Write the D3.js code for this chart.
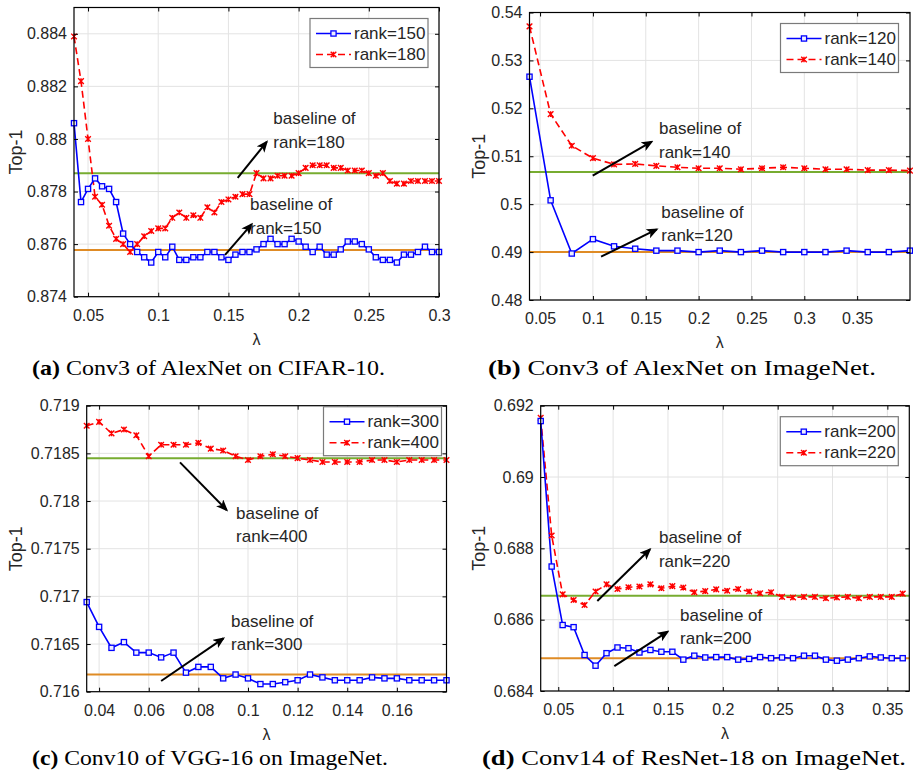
<!DOCTYPE html>
<html lang="en">
<head>
<meta charset="utf-8">
<title>Top-1 vs lambda</title>
<script src="https://cdn.jsdelivr.net/npm/d3@7"></script>
<style>
  body { margin: 0; background: #fff; }
  text { font-family: "Liberation Sans", Arial, sans-serif; fill: #262626; }
  .cap text, text.cap { font-family: "Liberation Serif", "Times New Roman", serif; fill: #000; }
</style>
</head>
<body>
<script>
// ---- data ----
// (a) Conv3 of AlexNet on CIFAR-10
var lambdaA = [0.04, 0.045, 0.05, 0.055, 0.06, 0.065, 0.07, 0.075, 0.08, 0.085, 0.09, 0.095,
               0.1, 0.105, 0.11, 0.115, 0.12, 0.125, 0.13, 0.135, 0.14, 0.145, 0.15, 0.155,
               0.16, 0.165, 0.17, 0.175, 0.18, 0.185, 0.19, 0.195, 0.2, 0.205, 0.21, 0.215,
               0.22, 0.225, 0.23, 0.235, 0.24, 0.245, 0.25, 0.255, 0.26, 0.265, 0.27, 0.275,
               0.28, 0.285, 0.29, 0.295, 0.3];
var rank150 = [0.8806, 0.8776, 0.8781, 0.8785, 0.8782, 0.8781, 0.8776, 0.8764, 0.8760, 0.8757, 0.8755, 0.8753,
               0.8757, 0.8755, 0.8759, 0.8754, 0.8754, 0.8755, 0.8755, 0.8757, 0.8757, 0.8755, 0.8754, 0.8756,
               0.8757, 0.8757, 0.8758, 0.8760, 0.8762, 0.8760, 0.8760, 0.8762, 0.8761, 0.8759, 0.8757, 0.8759,
               0.8756, 0.8756, 0.8758, 0.8761, 0.8761, 0.8760, 0.8758, 0.8755, 0.8754, 0.8754, 0.8753, 0.8756,
               0.8756, 0.8757, 0.8759, 0.8757, 0.8757];
var rank180 = [0.8839, 0.8822, 0.8800, 0.8778, 0.8775, 0.8767, 0.8762, 0.8760, 0.8757, 0.8760, 0.8763, 0.8765,
               0.8766, 0.8766, 0.8770, 0.8772, 0.8770, 0.8771, 0.8770, 0.8774, 0.8772, 0.8776, 0.8777, 0.8778,
               0.8779, 0.8779, 0.8787, 0.8785, 0.8785, 0.8786, 0.8786, 0.8786, 0.8787, 0.8789, 0.8790, 0.8790,
               0.8790, 0.8789, 0.8789, 0.8788, 0.8788, 0.8788, 0.8787, 0.8786, 0.8787, 0.8784, 0.8783, 0.8783,
               0.8784, 0.8784, 0.8784, 0.8784, 0.8784];
var baseA = [0.8787, 0.87578];

// (b) Conv3 of AlexNet on ImageNet
var lambdaB = [0.04, 0.06, 0.08, 0.1, 0.12, 0.14, 0.16, 0.18, 0.2, 0.22, 0.24, 0.26, 0.28, 0.3,
               0.32, 0.34, 0.36, 0.38, 0.4];
var rank120 = [0.5266, 0.5008, 0.4897, 0.4927, 0.4912, 0.4907, 0.4903, 0.4903, 0.4900, 0.4903,
               0.4900, 0.4903, 0.4900, 0.4900, 0.4900, 0.4903, 0.4900, 0.4900, 0.4903];
var rank140 = [0.5371, 0.5188, 0.5122, 0.5096, 0.5083, 0.5084, 0.5080, 0.5077, 0.5075, 0.5075,
               0.5073, 0.5075, 0.5077, 0.5075, 0.5073, 0.5073, 0.5071, 0.5071, 0.5070];
var baseB = [0.5067, 0.4900];

// (c) Conv10 of VGG-16 on ImageNet
var lambdaC = [0.035, 0.04, 0.045, 0.05, 0.055, 0.06, 0.065, 0.07, 0.075, 0.08, 0.085, 0.09,
               0.095, 0.1, 0.105, 0.11, 0.115, 0.12, 0.125, 0.13, 0.135, 0.14, 0.145, 0.15,
               0.155, 0.16, 0.165, 0.17, 0.175, 0.18];
var rank300 = [0.71694, 0.71668, 0.71646, 0.71652, 0.71641, 0.71641, 0.71636, 0.71641, 0.71620, 0.71626,
               0.71626, 0.71614, 0.71618, 0.71614, 0.71608, 0.71608, 0.71610, 0.71612, 0.71618, 0.71615,
               0.71612, 0.71612, 0.71612, 0.71615, 0.71614, 0.71614, 0.71612, 0.71612, 0.71612, 0.71612];
var rank400 = [0.71879, 0.71883, 0.71871, 0.71875, 0.71869, 0.71847, 0.71859, 0.71859, 0.71859, 0.71861,
               0.71855, 0.71853, 0.71847, 0.71843, 0.71847, 0.71849, 0.71847, 0.71845, 0.71843, 0.71841,
               0.71841, 0.71841, 0.71841, 0.71843, 0.71843, 0.71841, 0.71843, 0.71843, 0.71843, 0.71843];
var baseC = [0.71845, 0.71618];

// (d) Conv14 of ResNet-18 on ImageNet
var lambdaD = [0.034, 0.044, 0.054, 0.064, 0.074, 0.084, 0.094, 0.104, 0.114, 0.124, 0.134, 0.144,
               0.154, 0.164, 0.174, 0.184, 0.194, 0.204, 0.214, 0.224, 0.234, 0.244, 0.254, 0.264,
               0.274, 0.284, 0.294, 0.304, 0.314, 0.324, 0.334, 0.344, 0.354, 0.364];
var rank200 = [0.69157, 0.68749, 0.68585, 0.68579, 0.68501, 0.68471, 0.68506, 0.68522, 0.68520, 0.68508,
               0.68515, 0.68510, 0.68510, 0.68488, 0.68499, 0.68494, 0.68495, 0.68495, 0.68488, 0.68490,
               0.68495, 0.68492, 0.68494, 0.68492, 0.68499, 0.68499, 0.68488, 0.68485, 0.68488, 0.68492,
               0.68497, 0.68494, 0.68492, 0.68492];
var rank220 = [0.69166, 0.68836, 0.68671, 0.68655, 0.68641, 0.68679, 0.68699, 0.68686, 0.68691, 0.68693,
               0.68699, 0.68688, 0.68694, 0.68690, 0.68677, 0.68680, 0.68685, 0.68681, 0.68686, 0.68679,
               0.68674, 0.68677, 0.68664, 0.68662, 0.68664, 0.68664, 0.68660, 0.68662, 0.68664, 0.68660,
               0.68664, 0.68664, 0.68664, 0.68673];
var baseD = [0.68667, 0.68492];

// tick values and labels
var xTicksA = [0.05, 0.1, 0.15, 0.2, 0.25, 0.3];
var xLabelsA = ["0.05", "0.1", "0.15", "0.2", "0.25", "0.3"];
var yTicksA = [0.874, 0.876, 0.878, 0.88, 0.882, 0.884];
var yLabelsA = ["0.874", "0.876", "0.878", "0.88", "0.882", "0.884"];
var xTicksB = [0.05, 0.1, 0.15, 0.2, 0.25, 0.3, 0.35];
var xLabelsB = ["0.05", "0.1", "0.15", "0.2", "0.25", "0.3", "0.35"];
var yTicksB = [0.48, 0.49, 0.5, 0.51, 0.52, 0.53, 0.54];
var yLabelsB = ["0.48", "0.49", "0.5", "0.51", "0.52", "0.53", "0.54"];
var xTicksC = [0.04, 0.06, 0.08, 0.1, 0.12, 0.14, 0.16];
var xLabelsC = ["0.04", "0.06", "0.08", "0.1", "0.12", "0.14", "0.16"];
var yTicksC = [0.716, 0.7165, 0.717, 0.7175, 0.718, 0.7185, 0.719];
var yLabelsC = ["0.716", "0.7165", "0.717", "0.7175", "0.718", "0.7185", "0.719"];
var xTicksD = [0.05, 0.1, 0.15, 0.2, 0.25, 0.3, 0.35];
var xLabelsD = ["0.05", "0.1", "0.15", "0.2", "0.25", "0.3", "0.35"];
var yTicksD = [0.684, 0.686, 0.688, 0.69, 0.692];
var yLabelsD = ["0.684", "0.686", "0.688", "0.69", "0.692"];

var w = 913, h = 775;
var svg = d3.select("body").append("svg").attr("width", w).attr("height", h);

svg.append("defs").append("marker")
    .attr("id", "arrowhead")
    .attr("viewBox", "0 0 12 10")
    .attr("refX", 10).attr("refY", 5)
    .attr("markerWidth", 12).attr("markerHeight", 10)
    .attr("markerUnits", "userSpaceOnUse")
    .attr("orient", "auto")
    .append("path")
    .attr("d", "M0,0 L12,5 L0,10 L3,5 Z")
    .attr("fill", "#000");

var panels = [
  { left: 74, right: 439, top: 7.5, bottom: 296.7, xDom: [0.04, 0.3], yDom: [0.874, 0.885],
    lam: lambdaA, s1: rank150, s2: rank180, base: baseA, names: ["rank=150", "rank=180"],
    xt: xTicksA, xl: xLabelsA, yt: yTicksA, yl: yLabelsA, legRight: 11, legTop: 11,
    notes: [ { from: [0.1566, 0.87852], to: [0.1773, 0.87989], at: [0.182, 0.88078], txt: "rank=180" },
             { from: [0.1476, 0.87559], to: [0.1666, 0.87676], at: [0.1654, 0.87752], txt: "rank=150" } ],
    capX: 32, capY: 375, capW: 353, cap: ["(a)", " Conv3 of AlexNet on CIFAR-10."], ylabX: 22 },
  { left: 529.5, right: 910, top: 12.5, bottom: 300, xDom: [0.04, 0.4], yDom: [0.48, 0.54],
    lam: lambdaB, s1: rank120, s2: rank140, base: baseB, names: ["rank=120", "rank=140"],
    xt: xTicksB, xl: xLabelsB, yt: yTicksB, yl: yLabelsB, legRight: 11.5, legTop: 11,
    notes: [ { from: [0.0998, 0.50594], to: [0.1556, 0.51304], at: [0.1625, 0.51583], txt: "rank=140" },
             { from: [0.1077, 0.48904], to: [0.1604, 0.49475], at: [0.1647, 0.49837], txt: "rank=120" } ],
    capX: 488, capY: 375, capW: 388, cap: ["(b)", " Conv3 of AlexNet on ImageNet."], ylabX: 485 },
  { left: 86.7, right: 446.5, top: 405.7, bottom: 691.7, xDom: [0.035, 0.18], yDom: [0.716, 0.719],
    lam: lambdaC, s1: rank300, s2: rank400, base: baseC, names: ["rank=300", "rank=400"],
    xt: xTicksC, xl: xLabelsC, yt: yTicksC, yl: yLabelsC, legRight: 5, legTop: 1,
    notes: [ { from: [0.0726, 0.718406], to: [0.0914, 0.717906], at: [0.0952, 0.717878], txt: "rank=400" },
             { from: [0.065, 0.716112], to: [0.0901, 0.71656], at: [0.0932, 0.716742], txt: "rank=300" } ],
    capX: 32, capY: 765, capW: 356, cap: ["(c)", " Conv10 of VGG-16 on ImageNet."], ylabX: 22 },
  { left: 540.7, right: 909.3, top: 405.7, bottom: 691, xDom: [0.034, 0.37], yDom: [0.684, 0.692],
    lam: lambdaD, s1: rank200, s2: rank220, base: baseD, names: ["rank=200", "rank=220"],
    xt: xTicksD, xl: xLabelsD, yt: yTicksD, yl: yLabelsD, legRight: 11, legTop: 11,
    notes: [ { from: [0.0856, 0.686524], to: [0.1336, 0.687973], at: [0.1418, 0.68831], txt: "rank=220" },
             { from: [0.1011, 0.6847], to: [0.1498, 0.685663], at: [0.161, 0.686131], txt: "rank=200" } ],
    capX: 482, capY: 765, capW: 424, cap: ["(d)", " Conv14 of ResNet-18 on ImageNet."], ylabX: 485 }
];

var blue = "#0000ff", red = "#ff0000", green = "#77ac30", orange = "#df8b25";

function square(g, pts, color) {
  g.selectAll(null).data(pts).enter().append("rect")
    .attr("x", function(d) { return d[0] - 2.6; })
    .attr("y", function(d) { return d[1] - 2.6; })
    .attr("width", 5.2).attr("height", 5.2)
    .attr("fill", "#eef").attr("stroke", color).attr("stroke-width", 1.3);
}
function cross(g, pts, color) {
  g.selectAll(null).data(pts).enter().append("path")
    .attr("d", function(d) {
      var s = 2.8;
      return "M" + (d[0] - s) + "," + (d[1] - s) + "L" + (d[0] + s) + "," + (d[1] + s) +
             "M" + (d[0] - s) + "," + (d[1] + s) + "L" + (d[0] + s) + "," + (d[1] - s) +
             "M" + d[0] + "," + (d[1] - s) + "L" + d[0] + "," + (d[1] + s);
    })
    .attr("stroke", color).attr("stroke-width", 1.4).attr("fill", "none");
}

panels.forEach(function(p) {
  var x = d3.scaleLinear().domain(p.xDom).range([p.left, p.right]);
  var y = d3.scaleLinear().domain(p.yDom).range([p.bottom, p.top]);
  var g = svg.append("g");

  // grid
  g.selectAll(null).data(p.xt).enter().append("line")
    .attr("x1", function(d) { return x(d); }).attr("x2", function(d) { return x(d); })
    .attr("y1", p.top).attr("y2", p.bottom)
    .attr("stroke", "#e3e3e3").attr("stroke-width", 1);
  g.selectAll(null).data(p.yt).enter().append("line")
    .attr("y1", function(d) { return y(d); }).attr("y2", function(d) { return y(d); })
    .attr("x1", p.left).attr("x2", p.right)
    .attr("stroke", "#e3e3e3").attr("stroke-width", 1);

  // baselines
  g.selectAll(null).data(p.base).enter().append("line")
    .attr("x1", p.left).attr("x2", p.right)
    .attr("y1", function(d) { return y(d); }).attr("y2", function(d) { return y(d); })
    .attr("stroke", function(d, i) { return i === 0 ? green : orange; })
    .attr("stroke-width", 2);

  var line = d3.line().x(function(d) { return x(d[0]); }).y(function(d) { return y(d[1]); });
  var d1 = p.lam.map(function(l, i) { return [l, p.s1[i]]; });
  var d2 = p.lam.map(function(l, i) { return [l, p.s2[i]]; });

  g.append("path").datum(d2).attr("d", line)
    .attr("fill", "none").attr("stroke", red).attr("stroke-width", 1.6)
    .attr("stroke-dasharray", "7,4");
  g.append("path").datum(d1).attr("d", line)
    .attr("fill", "none").attr("stroke", blue).attr("stroke-width", 1.6);
  cross(g, d2.map(function(d) { return [x(d[0]), y(d[1])]; }), red);
  square(g, d1.map(function(d) { return [x(d[0]), y(d[1])]; }), blue);

  // axes (ticks point inward, MATLAB style)
  var xa = d3.axisBottom(x).tickValues(p.xt).tickFormat(function(d, i) { return p.xl[i]; })
    .tickSizeInner(-4).tickSizeOuter(0).tickPadding(13);
  var ya = d3.axisLeft(y).tickValues(p.yt).tickFormat(function(d, i) { return p.yl[i]; })
    .tickSizeInner(-4).tickSizeOuter(0).tickPadding(7);
  var gx = g.append("g").attr("transform", "translate(0," + p.bottom + ")").call(xa);
  var gy = g.append("g").attr("transform", "translate(" + p.left + ",0)").call(ya);
  g.append("g").attr("transform", "translate(0," + p.top + ")")
    .call(d3.axisTop(x).tickValues(p.xt).tickFormat("").tickSizeInner(-4).tickSizeOuter(0));
  g.append("g").attr("transform", "translate(" + p.right + ",0)")
    .call(d3.axisRight(y).tickValues(p.yt).tickFormat("").tickSizeInner(-4).tickSizeOuter(0));
  [gx, gy].forEach(function(a) {
    a.selectAll("text").attr("font-size", "16px").attr("font-family", "Liberation Sans, Arial, sans-serif")
      .attr("fill", "#262626");
  });
  g.selectAll(".domain").remove();
  g.selectAll(".tick line").attr("stroke", "#000");

  g.append("rect").attr("x", p.left).attr("y", p.top)
    .attr("width", p.right - p.left).attr("height", p.bottom - p.top)
    .attr("fill", "none").attr("stroke", "#000").attr("stroke-width", 1.2);

  // axis labels
  g.append("text").attr("x", (p.left + p.right) / 2).attr("y", p.bottom + 48)
    .attr("text-anchor", "middle").attr("font-size", "16px").text("λ");
  g.append("text")
    .attr("transform", "translate(" + p.ylabX + "," + ((p.top + p.bottom) / 2) + ") rotate(-90)")
    .attr("text-anchor", "middle").attr("font-size", "18px").text("Top-1");

  // annotations
  p.notes.forEach(function(n) {
    g.append("line")
      .attr("x1", x(n.from[0])).attr("y1", y(n.from[1]))
      .attr("x2", x(n.to[0])).attr("y2", y(n.to[1]))
      .attr("stroke", "#000").attr("stroke-width", 2)
      .attr("marker-end", "url(#arrowhead)");
    var t = g.append("text").attr("x", x(n.at[0])).attr("y", y(n.at[1]))
      .attr("font-size", "17px").attr("dominant-baseline", "central");
    t.append("tspan").attr("x", x(n.at[0])).text("baseline of");
    t.append("tspan").attr("x", x(n.at[0])).attr("dy", 23.4).text(n.txt);
  });

  // legend
  var lw = 118, lh = 49;
  var lx = p.right - p.legRight - lw, ly = p.top + p.legTop;
  var leg = g.append("g").attr("transform", "translate(" + lx + "," + ly + ")");
  leg.append("rect").attr("width", lw).attr("height", lh)
    .attr("fill", "#fff").attr("stroke", "#7a7a7a").attr("stroke-width", 1.2);
  leg.append("line").attr("x1", 6).attr("x2", 41).attr("y1", 15).attr("y2", 15)
    .attr("stroke", blue).attr("stroke-width", 1.6);
  square(leg, [[23.5, 15]], blue);
  leg.append("line").attr("x1", 6).attr("x2", 41).attr("y1", 36).attr("y2", 36)
    .attr("stroke", red).attr("stroke-width", 1.6).attr("stroke-dasharray", "7,4");
  cross(leg, [[23.5, 36]], red);
  leg.selectAll(null).data(p.names).enter().append("text")
    .attr("x", 44).attr("y", function(d, i) { return 15 + i * 21; })
    .attr("dominant-baseline", "central").attr("font-size", "17px")
    .attr("fill", "#000").text(function(d) { return d; });

  // caption (Computer Modern is wider than Times, so stretch to the measured width)
  var c = svg.append("text").attr("class", "cap").attr("x", p.capX).attr("y", p.capY)
    .attr("font-size", "22px").attr("textLength", p.capW).attr("lengthAdjust", "spacingAndGlyphs");
  c.append("tspan").attr("font-weight", "bold").text(p.cap[0]);
  c.append("tspan").text(p.cap[1]);
});
</script>
</body>
</html>
